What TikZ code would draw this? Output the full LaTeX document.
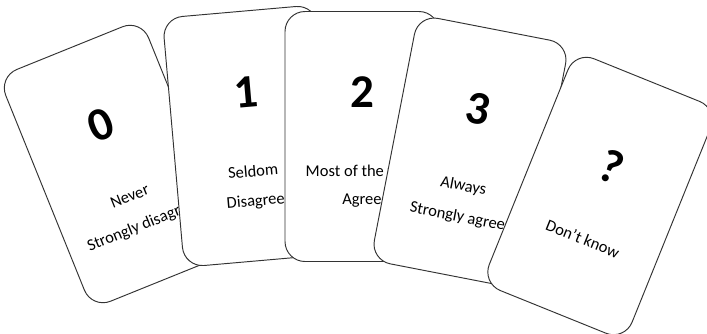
\documentclass[tikz,border=0pt]{standalone}
\usepackage{fontspec}
\setmainfont{Carlito}

\begin{document}
\begin{tikzpicture}[x=1pt, y=1pt,
  card/.style={draw=black!80, line width=0.95pt, fill=white, rounded corners=20pt,
    minimum width=154pt, minimum height=250pt},
  num/.style={font=\fontsize{47}{50}\selectfont\bfseries},
  txt/.style={font=\fontsize{16.5}{18}\selectfont}]
  \useasboundingbox (0,0) rectangle (707,-333);
  \clip (0,0) rectangle (707,-333);

  % card 0
  \begin{scope}[shift={(116.5,-164)}, rotate=22, transform shape]
    \node[card] (c0) {};
    \node[num] (n0) at (0,42) {0};
    \node[txt] (t0a) at (0,-35) {Never};
    \node[txt] (t0b) at (0,-67) {Strongly disagree};
  \end{scope}

  % card 1
  \begin{scope}[shift={(250,-136)}, rotate=5, transform shape]
    \node[card] (c1) {};
    \node[num] (n1) at (0,44) {1};
    \node[txt] (t1a) at (0,-35) {Seldom};
    \node[txt] (t1b) at (0,-66) {Disagree};
  \end{scope}

  % card 2
  \begin{scope}[shift={(362,-136.5)}, transform shape]
    \node[card] (c2) {};
    \node[num] (n2) at (0,44) {2};
    \node[txt] (t2a) at (0,-34) {Most of the time};
    \node[txt] (t2b) at (0,-64) {Agree};
  \end{scope}

  % card 3
  \begin{scope}[shift={(470,-152)}, rotate=-11, transform shape]
    \node[card] (c3) {};
    \node[num] (n3) at (0,44) {3};
    \node[txt] (t3a) at (0,-35) {Always};
    \node[txt] (t3b) at (0,-66) {Strongly agree};
  \end{scope}

  % card 4
  \begin{scope}[shift={(600,-196)}, rotate=-22, transform shape]
    \node[card] (c4) {};
    \node[num] (n4) at (0,32) {?};
    \node[txt] (t4a) at (0,-46) {Don’t know};
  \end{scope}
\end{tikzpicture}
\end{document}
